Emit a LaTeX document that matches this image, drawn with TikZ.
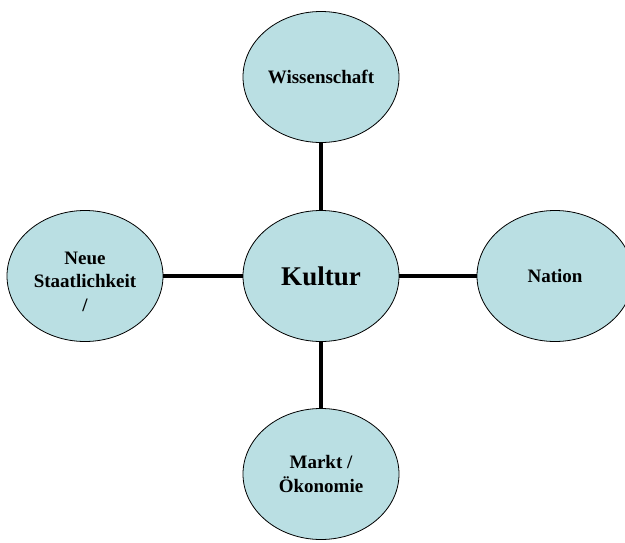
\documentclass[tikz,border=0pt]{standalone}
\usepackage{fontspec}
\setmainfont{Liberation Serif}
\usetikzlibrary{shapes.geometric}
\definecolor{kulturblau}{RGB}{186,223,227}
\begin{document}
\begin{tikzpicture}[x=1pt,y=-1pt, line join=round,
  blase/.style={ellipse, draw=black, line width=0.8pt, fill=kulturblau,
    minimum width=156pt, minimum height=131pt, inner sep=0pt, align=center,
    font=\bfseries\fontsize{19}{23.5}\selectfont},
  verbindung/.style={line width=3.6pt, black}]
  \useasboundingbox (0,0) rectangle (625,542);
  \clip (0,0) rectangle (625,542);
  % Mitte
  \node[blase, font=\bfseries\fontsize{27}{30}\selectfont] (kultur) at (321,276) {Kultur};
  % aussen
  \node[blase] (wiss) at (321,77) {Wissenschaft};
  \node[blase, text height=70pt, text depth=0pt] (staat) at (85,276) {Neue\\Staatlichkeit\\/};
  \node[blase] (nation) at (555,276) {Nation};
  \node[blase] (markt) at (321,474) {Markt /\\Ökonomie};
  \foreach \n in {wiss,staat,nation,markt}
    \draw[verbindung] (kultur) -- (\n);
\end{tikzpicture}
\end{document}
